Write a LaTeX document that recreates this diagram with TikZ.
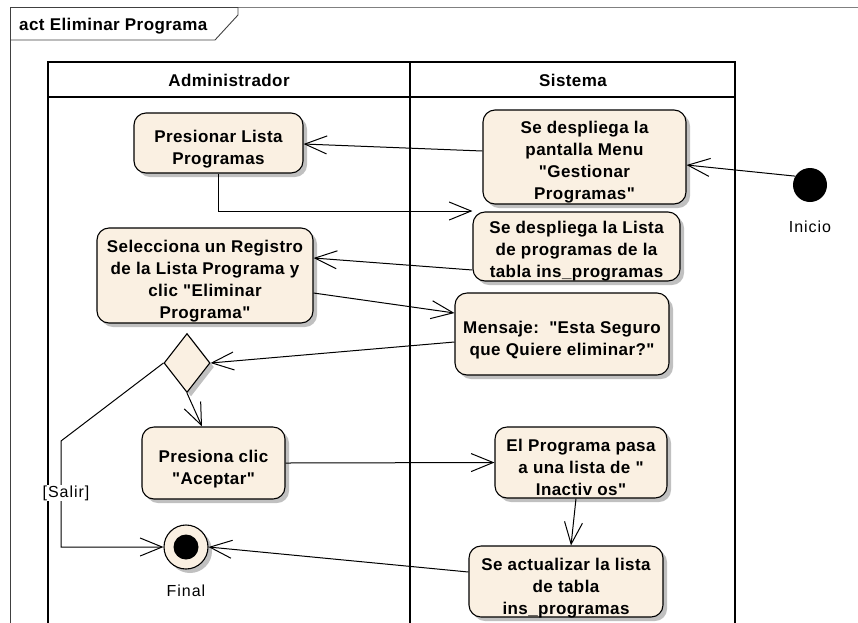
\documentclass[tikz,border=0pt]{standalone}
\usepackage{fontspec}
\setmainfont{Liberation Sans}
\newfontfamily\actfont[LetterSpace=2.5]{Liberation Sans}
\newfontfamily\lblfont[LetterSpace=6]{Liberation Sans}
\usetikzlibrary{shapes.geometric,arrows.meta,shadows,calc}
\definecolor{actfill}{RGB}{250,240,226}
\definecolor{shadowgray}{RGB}{192,192,192}
\tikzset{
 shad/.style={drop shadow={shadow xshift=4pt, shadow yshift=-4pt, fill=shadowgray, opacity=1}},
 act/.style={draw, line width=1.1pt, fill=actfill, rounded corners=12pt, shad, inner sep=0pt},
 acttext/.style={font=\actfont\bfseries\fontsize{17}{22}\selectfont, align=center, inner sep=0pt, anchor=base},
 flow/.style={draw, line width=1pt, -{Straight Barb[length=22pt,width=18pt]}},
 lane/.style={line width=1.8pt},
 lbl/.style={font=\lblfont\fontsize{16}{18}\selectfont, inner sep=1pt, anchor=base}
}
\begin{document}
\begin{tikzpicture}[x=1pt,y=-1pt]
\useasboundingbox (0,0) rectangle (858,622);
% frame
\draw[black!75, line width=0.9pt] (10,630) -- (10,7) -- (238,7);
\draw[black!50, line width=0.9pt] (238,7) -- (858,7);
\draw[black!75, line width=0.9pt] (10,40) -- (215,40) -- (238,15) -- (238,7);
\node[acttext, anchor=base west] (title) at (19,30) {act Eliminar Programa};
% swimlanes
\draw[lane] (48,630) -- (48,62) -- (735,62) -- (735,630);
\draw[lane] (410,62) -- (410,630);
\draw[lane] (48,97) -- (735,97);
\node[acttext] (hadm) at (229,86) {Administrador};
\node[acttext] (hsis) at (573,86) {Sistema};
% activities (text anchored at the baseline of its last line)
\node[act, minimum width=169pt, minimum height=60pt] (pl) at (218.5,143) {};
\node[acttext] (plt) at (218.5,164) {Presionar Lista\\Programas};
\node[act, minimum width=203pt, minimum height=94pt] (gp) at (584.5,157) {};
\node[acttext] (gpt) at (584.5,199.5) {Se despliega la\\pantalla Menu\\"Gestionar\\Programas"};
\node[act, minimum width=207pt, minimum height=69pt] (ld) at (576.5,246.5) {};
\node[acttext] (ldt) at (576.5,277.5) {Se despliega la Lista\\de programas de la\\tabla ins\_programas};
\node[act, minimum width=216pt, minimum height=95pt] (sr) at (205,275.5) {};
\node[acttext] (srt) at (205,318.5) {Selecciona un Registro\\de la Lista Programa y\\clic "Eliminar\\Programa"};
\node[act, minimum width=214pt, minimum height=82pt] (ms) at (562,334) {};
\node[acttext] (mst) at (562,355.5) {Mensaje:\ \ "Esta Seguro\\que Quiere eliminar?"};
\node[act, minimum width=143pt, minimum height=72pt] (pa) at (213.5,463) {};
\node[acttext] (pat) at (213.5,484) {Presiona clic\\"Aceptar"};
\node[act, minimum width=172pt, minimum height=71pt] (ep) at (581,462.5) {};
\node[acttext] (ept) at (581,495) {El Programa pasa\\a una lista de "\\Inactiv os"};
\node[act, minimum width=194pt, minimum height=71pt] (sa) at (566,581.5) {};
\node[acttext] (sat) at (566,614) {Se actualizar la lista\\de tabla\\ins\_programas};
% decision
\node[draw, line width=1.1pt, fill=actfill, shad, diamond, minimum width=46pt, minimum height=59pt, inner sep=0pt] (dec) at (187,363) {};
% initial
\node[circle, fill=black, minimum size=34pt, inner sep=0pt] (ini) at (810,185) {};
\node[lbl] (inil) at (810,232) {Inicio};
% final
\node[circle, draw, line width=1.1pt, fill=actfill, shad, minimum size=44pt, inner sep=0pt] (fin) at (186,547) {};
\node[circle, fill=black, minimum size=25pt, inner sep=0pt] (finc) at (fin.center) {};
\node[lbl] (finl) at (186,596) {Final};
% flows
\draw[flow] (ini.149) -- (gp.east |- 0,165);
\draw[flow] (gp.west |- 0,151) -- (pl.east |- 0,144);
\draw[flow] (pl.south) |- (ld.west |- 0,211);
\draw[flow] (ld.west |- 0,270) -- (sr.east |- 0,258);
\draw[flow] (sr.east |- 0,293) -- (ms.west |- 0,313);
\draw[flow] (ms.west |- 0,342) -- (dec.east);
\draw[flow] (dec.south) -- (pa.north -| 202,0);
\coordinate (sb) at (61,441);
\draw[flow] (dec.west) -- (sb) |- (fin.west);
\node[lbl, fill=white, inner sep=0.5pt] (salir) at (66,497) {[Salir]};
\draw[flow] (pa.east) -- (ep.west);
\draw[flow] (ep.south -| 576,0) -- (sa.north -| 571,0);
\draw[flow] (sa.west |- 0,572) -- (fin.east);
\end{tikzpicture}
\end{document}
